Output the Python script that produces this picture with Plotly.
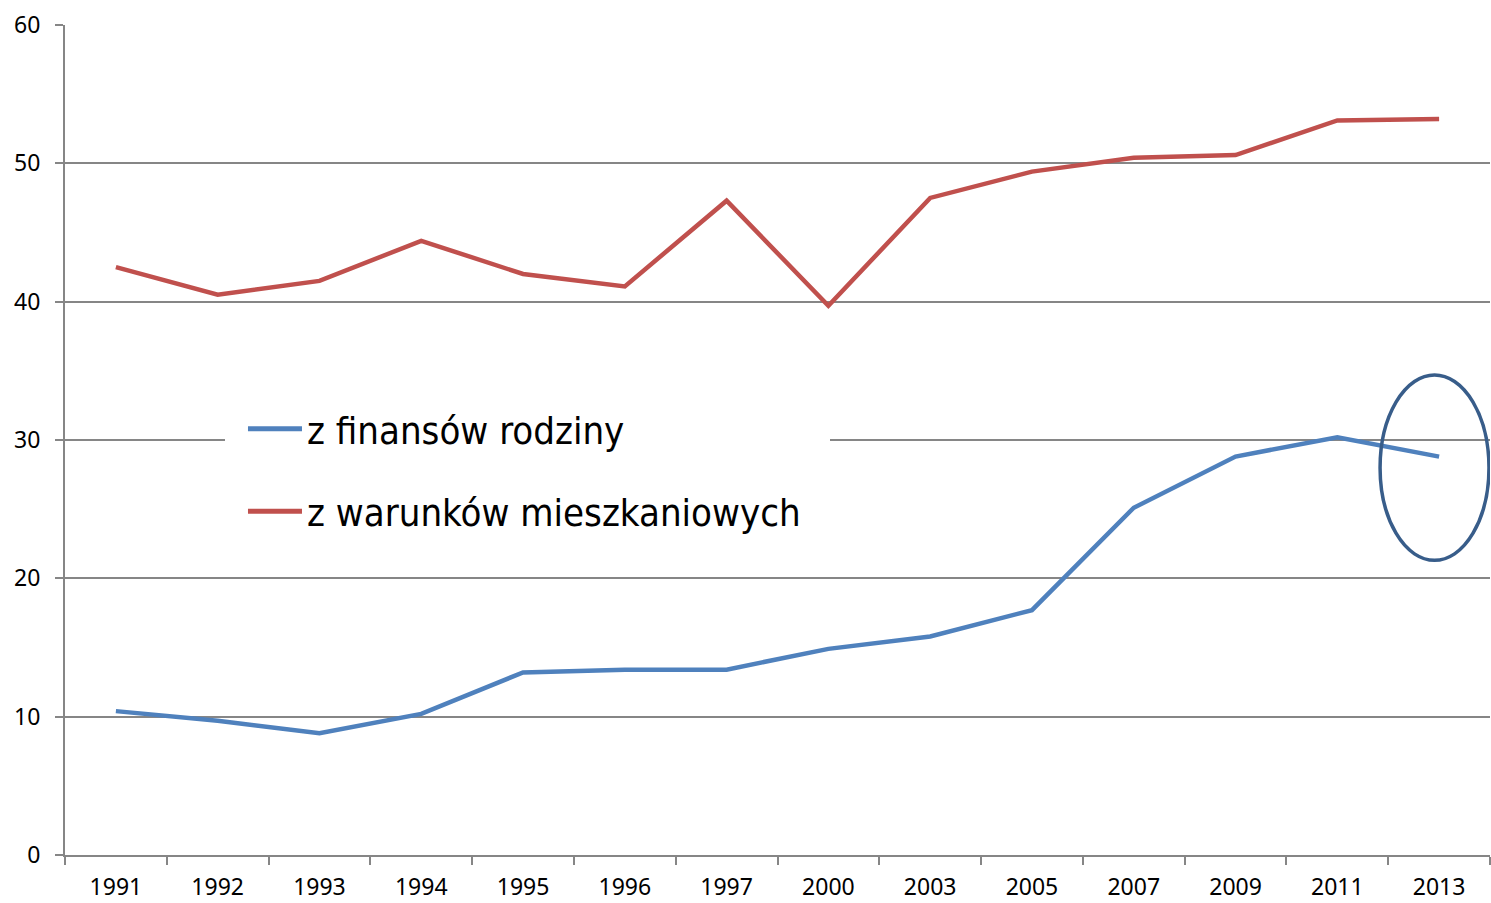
import plotly.graph_objects as go

years = ["1991", "1992", "1993", "1994", "1995", "1996", "1997", "2000",
         "2003", "2005", "2007", "2009", "2011", "2013"]
finanse = [10.4, 9.7, 8.8, 10.2, 13.2, 13.4, 13.4, 14.9, 15.8, 17.7, 25.1, 28.8, 30.2, 28.8]
mieszkanie = [42.5, 40.5, 41.5, 44.4, 42.0, 41.1, 47.3, 39.7, 47.5, 49.4, 50.4, 50.6, 53.1, 53.2]
y_ticks = [0, 10, 20, 30, 40, 50, 60]

fig = go.Figure()
fig.add_trace(go.Scatter(x=years, y=finanse, mode="lines", name="z finansów rodziny",
                         legendgroup="a", line=dict(color="#4F81BD", width=4.5)))
fig.add_trace(go.Scatter(x=years, y=mieszkanie, mode="lines", name="z warunków mieszkaniowych",
                         legendgroup="b", line=dict(color="#C0504D", width=4.5)))

# ellipse highlighting the last point
last = len(years) - 1
fig.add_shape(type="circle", xref="x", yref="y",
              x0=last - 0.58, x1=last + 0.49, y0=21.3, y1=34.7,
              line=dict(color="#385D8A", width=3.5), fillcolor="rgba(0,0,0,0)", layer="above")

# white background box of the legend (hides gridline)
fig.add_shape(type="rect", xref="paper", yref="paper",
              x0=(225 - 65) / 1425, x1=(830 - 65) / 1425, y0=0.39, y1=0.55,
              line=dict(width=0), fillcolor="white", layer="above")

axis_color = "#868686"
fig.update_layout(
    width=1491, height=903,
    margin=dict(l=65, r=1, t=25, b=48, autoexpand=False),
    plot_bgcolor="white", paper_bgcolor="white",
    font=dict(family="Noto Sans", size=23, color="black"),
    showlegend=True,
    legend=dict(x=0.1249, y=0.551, xanchor="left", yanchor="top",
                bgcolor="rgba(0,0,0,0)", borderwidth=0,
                font=dict(family="DejaVu Sans Condensed", size=38, color="black"),
                itemwidth=54, tracegroupgap=30, itemsizing="constant",
                ),
    xaxis=dict(type="category", range=[-0.5, len(years) - 0.5], automargin=False,
               showline=True, linecolor=axis_color, linewidth=2,
               ticks="outside", tickson="boundaries", ticklen=8, tickcolor=axis_color, tickwidth=2,
               ticklabelstandoff=10,
               showgrid=False, tickfont=dict(size=23)),
    yaxis=dict(range=[0, 60], tickvals=y_ticks, showline=True, linecolor=axis_color, linewidth=2,
               automargin=False,
               ticks="outside", ticklen=8, tickcolor=axis_color, tickwidth=2,
               ticklabelstandoff=10,
               showgrid=True, gridcolor=axis_color, gridwidth=1.5, zeroline=False,
               tickfont=dict(size=23)),
)

fig.write_html("out.html", config={"displayModeBar": False},
               post_script="document.body.style.margin='0';document.body.style.overflow='hidden';")
